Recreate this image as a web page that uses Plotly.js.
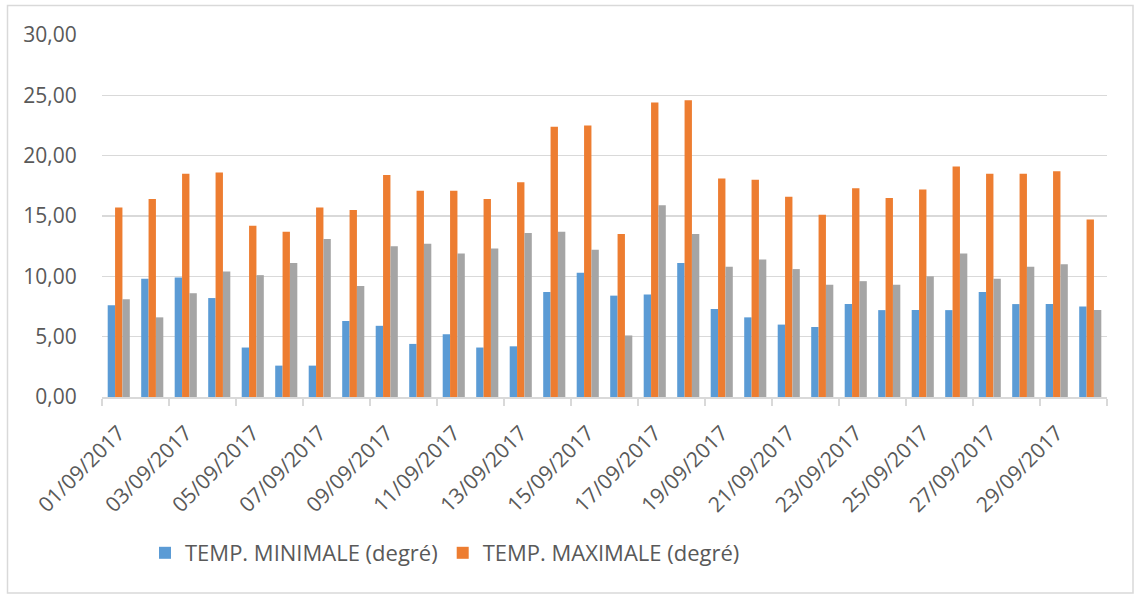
<!DOCTYPE html>
<html>
<head>
<meta charset="utf-8">
<script src="https://cdn.plot.ly/plotly-3.0.1.min.js"></script>
<style>
html, body { margin: 0; padding: 0; background: #ffffff; }
#chart { width: 1136px; height: 596px; }
</style>
</head>
<body>
<div id="chart"></div>
<script>
// ---- Data ----
const dates = [
  "01/09/2017","02/09/2017","03/09/2017","04/09/2017","05/09/2017","06/09/2017",
  "07/09/2017","08/09/2017","09/09/2017","10/09/2017","11/09/2017","12/09/2017",
  "13/09/2017","14/09/2017","15/09/2017","16/09/2017","17/09/2017","18/09/2017",
  "19/09/2017","20/09/2017","21/09/2017","22/09/2017","23/09/2017","24/09/2017",
  "25/09/2017","26/09/2017","27/09/2017","28/09/2017","29/09/2017","30/09/2017"
];
const tempMin = [7.6, 9.8, 9.9, 8.2, 4.1, 2.6, 2.6, 6.3, 5.9, 4.4, 5.2, 4.1, 4.2, 8.7, 10.3,
                 8.4, 8.5, 11.1, 7.3, 6.6, 6.0, 5.8, 7.7, 7.2, 7.2, 7.2, 8.7, 7.7, 7.7, 7.5];
const tempMax = [15.7, 16.4, 18.5, 18.6, 14.2, 13.7, 15.7, 15.5, 18.4, 17.1, 17.1, 16.4, 17.8, 22.4, 22.5,
                 13.5, 24.4, 24.6, 18.1, 18.0, 16.6, 15.1, 17.3, 16.5, 17.2, 19.1, 18.5, 18.5, 18.7, 14.7];
const series3 = [8.1, 6.6, 8.6, 10.4, 10.1, 11.1, 13.1, 9.2, 12.5, 12.7, 11.9, 12.3, 13.6, 13.7, 12.2,
                 5.1, 15.9, 13.5, 10.8, 11.4, 10.6, 9.3, 9.6, 9.3, 10.0, 11.9, 9.8, 10.8, 11.0, 7.2];
const seriesNames = ["TEMP. MINIMALE (degré)", "TEMP. MAXIMALE (degré)", "Série 3"];
const yTicks = [0, 5, 10, 15, 20, 25, 30];

// ---- Layout geometry (pixels) ----
const W = 1136, H = 596;
const M = {l: 102, r: 29, t: 35, b: 199};
const PW = W - M.l - M.r, PH = H - M.t - M.b;
const px2x = x => (x - M.l) / PW;
const px2y = y => (H - M.b - y) / PH;

const FONT = "'Open Sans', 'Noto Sans', sans-serif";
const TXT = "#595959";
const GRID = "#d9d9d9";

const traces = [
  {type: "bar", name: seriesNames[0], x: dates, y: tempMin, marker: {color: "#5B9BD5"}},
  {type: "bar", name: seriesNames[1], x: dates, y: tempMax, marker: {color: "#ED7D31"}},
  {type: "bar", name: seriesNames[2], x: dates, y: series3, marker: {color: "#A5A5A5"}, showlegend: false}
];

const layout = {
  width: W, height: H,
  margin: M,
  paper_bgcolor: "#ffffff",
  plot_bgcolor: "#ffffff",
  barmode: "group",
  bargap: 0.34,
  bargroupgap: 0,
  separators: ", ",
  font: {family: FONT, size: 21, color: TXT},
  xaxis: {
    type: "category",
    tickmode: "linear", tick0: 0, dtick: 2,
    tickson: "boundaries",
    ticks: "outside", ticklen: 7, tickwidth: 1.5, tickcolor: GRID,
    ticklabelstandoff: 14,
    tickangle: -45,
    tickfont: {family: FONT, size: 21, color: TXT},
    showline: true, linecolor: GRID, linewidth: 1.5,
    showgrid: false, zeroline: false,
    range: [-0.5, dates.length - 0.5],
    fixedrange: true
  },
  yaxis: {
    range: [0, 30],
    tickmode: "array", tickvals: yTicks,
    tickformat: ".2f",
    ticks: "outside", ticklen: 20, tickcolor: "rgba(0,0,0,0)",
    tickfont: {family: FONT, size: 21, color: TXT},
    showgrid: true, gridcolor: GRID, gridwidth: 1.5,
    zeroline: false, showline: false,
    fixedrange: true
  },
  showlegend: true,
  legend: {
    orientation: "h",
    x: px2x(145), xanchor: "left",
    y: px2y(553), yanchor: "middle",
    font: {family: FONT, size: 22, color: TXT},
    bgcolor: "rgba(0,0,0,0)",
    itemclick: false
  },
  shapes: [{
    type: "rect", xref: "paper", yref: "paper",
    x0: px2x(7.5), x1: px2x(1133), y0: px2y(593), y1: px2y(5.5),
    line: {color: GRID, width: 1.5}, fillcolor: "rgba(0,0,0,0)", layer: "below"
  }]
};

Plotly.newPlot("chart", traces, layout, {displayModeBar: false, staticPlot: true});
</script>
</body>
</html>
